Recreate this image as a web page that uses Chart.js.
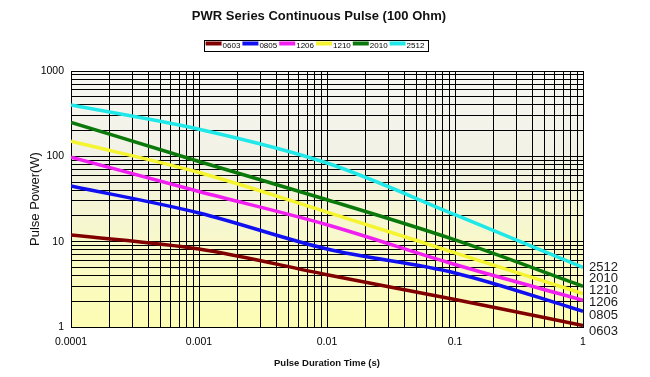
<!DOCTYPE html>
<html>
<head>
<meta charset="utf-8">
<script src="https://cdn.jsdelivr.net/npm/chart.js@4.4.1/dist/chart.umd.min.js"></script>
<style>
html,body{margin:0;padding:0;background:#fff;}
#wrap{width:650px;height:377px;position:relative;}
</style>
</head>
<body>
<div id="wrap"><canvas id="c" width="650" height="377"></canvas></div>
<script>
// ---- data ----
const chartTitle = 'PWR Series Continuous Pulse (100 Ohm)';
const xAxisTitle = 'Pulse Duration Time (s)';
const yAxisTitle = 'Pulse Power(W)';
const durations = [0.0001, 0.001, 0.01, 0.1, 1];
const seriesNames = ['0603', '0805', '1206', '1210', '2010', '2512'];
const p0603 = [12, 8.2, 4.1, 2.1, 1.04];
const p0805 = [45, 21.7, 8.2, 4.3, 1.53];
const p1206 = [98, 38.7, 15.8, 5.4, 2.06];
const p1210 = [150, 64.6, 22.2, 7.4, 2.46];
const p2010 = [250, 87, 31, 10.5, 3.0];
const p2512 = [400, 208, 83.5, 20.7, 5.0];
const seriesColors = ['#800000', '#1010f0', '#f020f0', '#f4f430', '#0a780a', '#20e8e8'];
const xTickValues = [0.0001, 0.001, 0.01, 0.1, 1];
const xTickLabels = ['0.0001', '0.001', '0.01', '0.1', '1'];
const yTickValues = [1, 10, 100, 1000];
const yTickLabels = ['1', '10', '100', '1000'];

const seriesValues = [p0603, p0805, p1206, p1210, p2010, p2512];
const NARROW = '"Liberation Sans Narrow", "Arial Narrow", "Liberation Sans", Arial, sans-serif';
const SANS = '"Liberation Sans", Arial, sans-serif';

function logTicks(minExp, maxVal) {
  const t = [];
  for (let e = minExp; Math.pow(10, e) <= maxVal * 1.0000001; e++) {
    for (let m = 1; m <= 9; m++) {
      const v = +(m * Math.pow(10, e)).toPrecision(6);
      if (v <= maxVal * 1.0000001) t.push({ value: v });
    }
  }
  return t;
}
function labelFor(values, labels, v) {
  const i = values.findIndex(t => Math.abs(Math.log10(t) - Math.log10(v)) < 1e-6);
  return i >= 0 ? labels[i] : '';
}

const decorPlugin = {
  id: 'decor',
  beforeDraw(chart) {
    const { ctx, chartArea: a } = chart;
    ctx.save();
    ctx.fillStyle = '#ffffff';
    ctx.fillRect(0, 0, chart.width, chart.height);
    const g = ctx.createLinearGradient(0, a.top, 0, a.bottom);
    g.addColorStop(0, '#f7f7f4');
    g.addColorStop(0.35, '#f1f1e4');
    g.addColorStop(0.7, '#f9f9c8');
    g.addColorStop(1, '#fdfdb4');
    ctx.fillStyle = g;
    ctx.fillRect(a.left, a.top, a.right - a.left, a.bottom - a.top);
    ctx.restore();
  },
  afterDraw(chart) {
    const { ctx } = chart;
    ctx.save();
    // title
    ctx.fillStyle = '#111';
    ctx.font = 'bold 13px ' + SANS;
    ctx.textAlign = 'center';
    ctx.textBaseline = 'middle';
    ctx.fillText(chartTitle, 319, 16);
    // legend
    ctx.font = '8px ' + NARROW;
    ctx.textAlign = 'left';
    const ds = chart.data.datasets;
    const sw = 16;
    const widths = ds.map(d => sw + 1 + ctx.measureText(d.label).width + 2);
    const total = widths.reduce((s, w) => s + w, 0);
    let x = 316 - total / 2;
    ctx.strokeStyle = '#000';
    ctx.lineWidth = 1;
    ctx.strokeRect(Math.round(x - 2) + 0.5, 40.5, Math.round(total + 3), 11);
    ds.forEach((d, i) => {
      ctx.strokeStyle = d.borderColor;
      ctx.lineWidth = 4;
      ctx.beginPath();
      ctx.moveTo(x, 43.5);
      ctx.lineTo(x + sw, 43.5);
      ctx.stroke();
      ctx.fillStyle = '#000';
      ctx.fillText(d.label, x + sw + 1, 45.5);
      x += widths[i];
    });
    // right-side series labels
    const ys = chart.scales.y;
    const baseY = ys.getPixelForValue(p2512[p2512.length - 1]);
    const offs = [0, 11.5, 23, 35, 48, 64];
    ctx.font = '13px ' + SANS;
    ctx.fillStyle = '#1a1a1a';
    ctx.textBaseline = 'middle';
    const order = seriesNames.slice().reverse();
    order.forEach((n, i) => ctx.fillText(n, 589, baseY + offs[i]));
    ctx.restore();
  }
};

new Chart(document.getElementById('c'), {
  type: 'line',
  data: {
    datasets: seriesNames.map((n, i) => ({
      label: n,
      data: durations.map((d, j) => ({ x: d, y: seriesValues[i][j] })),
      borderColor: seriesColors[i],
      backgroundColor: seriesColors[i],
      borderWidth: 3.5,
      pointRadius: 0,
      fill: false,
      cubicInterpolationMode: 'monotone'
    }))
  },
  options: {
    responsive: false,
    animation: false,
    devicePixelRatio: 1,
    layout: { padding: { top: 71, right: 67, bottom: 0, left: 0 } },
    plugins: {
      legend: { display: false },
      title: { display: false },
      tooltip: { enabled: false }
    },
    scales: {
      x: {
        type: 'logarithmic',
        position: 'bottom',
        min: 0.0001,
        max: 1,
        afterBuildTicks: s => { s.ticks = logTicks(-4, 1); },
        afterFit: s => { s.height = 50; },
        ticks: {
          autoSkip: false,
          maxRotation: 0,
          padding: 9,
          color: '#000',
          font: { family: NARROW, size: 10.5 },
          callback: v => labelFor(xTickValues, xTickLabels, v)
        },
        grid: { color: '#000', lineWidth: 1, drawTicks: false },
        border: { display: true, color: '#000', width: 1 },
        title: {
          display: true,
          text: xAxisTitle,
          color: '#111',
          font: { family: SANS, size: 9.5, weight: 'bold' },
          padding: { top: 0, bottom: 8 }
        }
      },
      y: {
        type: 'logarithmic',
        position: 'left',
        min: 1,
        max: 1000,
        afterBuildTicks: s => { s.ticks = logTicks(0, 1000); },
        afterFit: s => { s.width = 71; },
        ticks: {
          autoSkip: false,
          padding: 7,
          color: '#000',
          font: { family: NARROW, size: 10.5 },
          callback: v => labelFor(yTickValues, yTickLabels, v)
        },
        grid: { color: '#000', lineWidth: 1, drawTicks: false },
        border: { display: true, color: '#000', width: 1 },
        title: {
          display: true,
          text: yAxisTitle,
          color: '#111',
          font: { family: SANS, size: 13 },
          padding: { top: 28, bottom: 0 }
        }
      }
    }
  },
  plugins: [decorPlugin]
});
</script>
</body>
</html>
